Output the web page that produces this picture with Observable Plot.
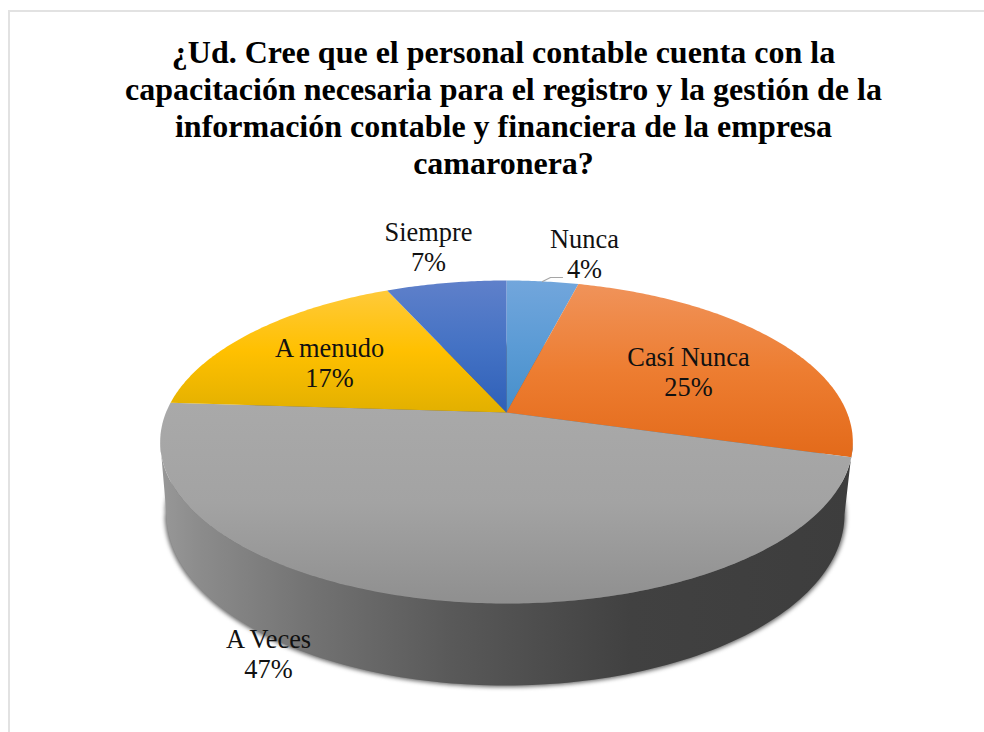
<!DOCTYPE html>
<html lang="es">
<head>
<meta charset="utf-8">
<script src="https://cdn.jsdelivr.net/npm/d3@7"></script>
<script src="https://cdn.jsdelivr.net/npm/@observablehq/plot@0.6"></script>
<style>
  html, body { margin: 0; padding: 0; background: #fff; }
  body { width: 984px; height: 732px; overflow: hidden; position: relative; }
  #frame { position: absolute; left: 8px; top: 10px; width: 1000px; height: 760px; border: 2px solid #e2e2e2; box-sizing: border-box; }
  #title { position: absolute; left: 0; width: 1007px; top: 34px; margin: 0; text-align: center;
           font: bold 32px/36.9px "Liberation Serif", serif; color: #000; }
  #chart { position: absolute; left: 0; top: 200px; }
</style>
</head>
<body>
<div id="frame"></div>
<h1 id="title">¿Ud. Cree que el personal contable cuenta con la<br>capacitación necesaria para el registro y la gestión de la<br>información contable y financiera de la empresa<br>camaronera?</h1>
<div id="chart"></div>
<script>
// Data: shares; the labels show them rounded
const labels = ["Nunca", "Casí Nunca", "A Veces", "A menudo", "Siempre"];
const values = [4, 25.4, 46.6, 17.3, 6.7];

// Slice colours: top, middle, bottom of each gradient
const topColors = ["#72a6dc", "#f0935a", "#a9a9a9", "#ffca3a", "#5f80ca"];
const midColors = ["#5b9bd5", "#ed7d31", "#a3a3a3", "#ffc000", "#4472c4"];
const endColors = ["#468fca", "#e36a1a", "#8f8f8f", "#e2b000", "#2f60b8"];

// Label anchor points, in pixels relative to the pie's apex (y up)
const labelAt = [[78, 159.5], [182, 41.5], [-238, -240.5], [-177, 50.5], [-78, 166]];

// Projected circle for the pie's top face (perspective view)
const A = 340.5, B = 156.1, K = 0.1827;
const rim = (t) => {
  const d = 1 + K * Math.cos(t);
  return {x: A * Math.sin(t) / d, y: B * Math.cos(t) / d};
};

// Slice outlines from the values
let cum = 0;
const total = d3.sum(values);
const slices = [];
labels.forEach((label, i) => {
  const a0 = cum / total * 2 * Math.PI;
  cum += values[i];
  const a1 = cum / total * 2 * Math.PI;
  const n = Math.max(2, Math.ceil((a1 - a0) * 90));
  slices.push({label, x: 0, y: 0});
  for (let j = 0; j <= n; ++j) slices.push({label, ...rim(a0 + (a1 - a0) * j / n)});
});

// Side wall: the front half of the top rim, then the front half of the base rim
const tR = Math.acos(-K), tL = 2 * Math.PI - tR;
const baseCx = -1, baseCy = -102, baseRx = 339, baseRy = 171;
const base = [];
for (let j = 0; j <= 120; ++j) {
  const p = Math.PI * j / 120;
  base.push({x: baseCx - baseRx * Math.cos(p), y: baseCy - baseRy * Math.sin(p)});
}
const front = d3.range(0, 121).map((j) => rim(tR + (tL - tR) * j / 120));
const wall = [...front, ...base];
const shadow = d3.range(0, 180).map((j) => {
  const p = 2 * Math.PI * j / 180;
  return {x: baseCx - (baseRx + 1) * Math.cos(p), y: baseCy - 1 - baseRy * Math.sin(p)};
});

const gradId = (i) => `slice${i}`;
const defs = () => {
  const s = d3.create("svg:defs");
  labels.forEach((_, i) => {
    const g = s.append("linearGradient").attr("id", gradId(i)).attr("x1", 0).attr("x2", 0).attr("y1", 0).attr("y2", 1);
    g.append("stop").attr("offset", "0%").attr("stop-color", topColors[i]);
    g.append("stop").attr("offset", "50%").attr("stop-color", midColors[i]);
    g.append("stop").attr("offset", "100%").attr("stop-color", endColors[i]);
  });
  const w = s.append("linearGradient").attr("id", "wall").attr("x1", 0).attr("x2", 1).attr("y1", 0).attr("y2", 0);
  [["0%", "#989898"], ["6%", "#8b8b8b"], ["22%", "#727272"], ["42%", "#595959"], ["68%", "#414141"], ["100%", "#3d3d3d"]]
    .forEach(([o, c]) => w.append("stop").attr("offset", o).attr("stop-color", c));
  return s.node();
};

const chart = Plot.plot({
  width: 984,
  height: 532,
  margin: 0,
  style: {background: "transparent", fontFamily: "'Liberation Serif', serif"},
  x: {domain: [-506, 478], range: [0, 984], axis: null},
  y: {domain: [212, -320], range: [0, 532], axis: null},
  color: {domain: labels, range: labels.map((_, i) => `url(#${gradId(i)})`)},
  marks: [
    defs,
    Plot.line(shadow, {x: "x", y: "y", fill: "#666", stroke: "#666", strokeWidth: 1, imageFilter: "blur(2px)"}),
    Plot.line(wall, {x: "x", y: "y", fill: "url(#wall)", stroke: "none"}),
    Plot.line(slices, {x: "x", y: "y", fill: "label", stroke: "none"}),
    Plot.line([{x: 36, y: 131}, {x: 44, y: 135}, {x: 56, y: 135}], {x: "x", y: "y", stroke: "#a6a6a6", strokeWidth: 1.2}),
    Plot.text(labels, {
      x: (_, i) => labelAt[i][0],
      y: (_, i) => labelAt[i][1],
      text: (d, i) => `${d}\n${Math.round(values[i])}%`,
      fontSize: 26.4,
      lineHeight: 1.15,
      fill: "#111",
      textAnchor: "middle"
    })
  ]
});
document.getElementById("chart").append(chart);
</script>
</body>
</html>
